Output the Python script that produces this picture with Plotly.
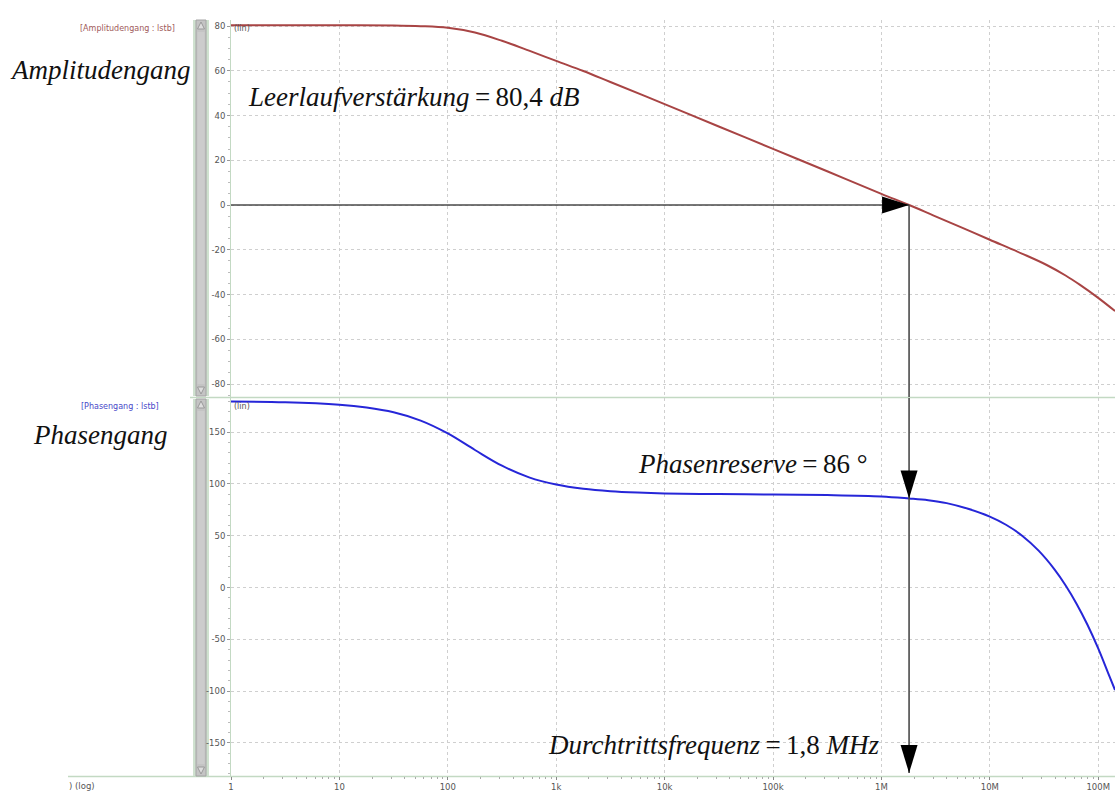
import plotly.graph_objects as go
from plotly.subplots import make_subplots

# --- Frequenzgang des Operationsverstärkers (Simulation lstb) ---
freq_amp = [1, 3.16, 10, 31.6, 56.2, 100, 178, 316, 562, 1e3, 1.78e3, 3.16e3, 1e4, 3.16e4,
            1e5, 3.16e5, 1e6, 1.8e6, 3e6, 5.6e6, 1e7, 2e7, 3.35e7, 5e7, 6.8e7, 1e8, 1.43e8]
amp_db = [80.4, 80.4, 80.4, 80.25, 79.95, 79.2, 77.1, 73.4, 69.0, 64.4, 59.9, 55.0, 45.1, 35.1,
          25.1, 15.1, 5.0, 0.0, -4.6, -10.2, -15.5, -21.8, -26.8, -31.5, -35.7, -41.5, -47.4]

freq_phase = [1, 3.16, 10, 17.8, 31.6, 56.2, 100, 178, 316, 562, 1e3, 1.78e3, 3.16e3, 5.62e3,
              1e4, 3.16e4, 1e5, 3.16e5, 1e6, 1.8e6, 2.7e6, 4e6, 6.3e6, 1e7, 1.41e7, 2e7,
              2.82e7, 3.98e7, 5.01e7, 6.31e7, 7.94e7, 1e8, 1.26e8, 1.43e8]
phase_deg = [179.6, 178.9, 176.5, 173.8, 169.2, 161.2, 148.8, 132.8, 117.6, 106.4, 99.4, 95.3, 93.0, 91.7,
             90.9, 90.2, 89.8, 89.3, 88.0, 86.0, 84.3, 81.5, 76.0, 68.5, 60.6, 49.8,
             35.6, 17.1, 2.0, -15.6, -35.7, -58.8, -84.9, -99.0]

# Kennwerte
A0_DB = 80.4          # Leerlaufverstärkung
F_CROSS = 1.8e6       # Durchtrittsfrequenz
PHASE_MARGIN = 86     # Phasenreserve

# Achsenbeschriftung
x_tickvals = [1, 10, 100, 1e3, 1e4, 1e5, 1e6, 1e7, 1e8]
x_ticktext = ["1", "10", "100", "1k", "10k", "100k", "1M", "10M", "100M"]
amp_ticks = [-80, -60, -40, -20, 0, 20, 40, 60, 80]
phase_ticks = [-150, -100, -50, 0, 50, 100, 150]

# --- Seitengeometrie (Pixel) ---
W, H = 1115, 791
ML, MR, MT, MB = 231, 0, 20, 15
PW, PH = W - ML - MR, H - MT - MB


def X(p):
    return (p - ML) / PW


def Y(p):
    return (H - MB - p) / PH


AMP_RANGE = [-85.8, 82.7]
PH_RANGE = [-182, 183]
X_RANGE = [0, 8.155]

AMP_COLOR = "#a84444"
PH_COLOR = "#2626d8"
GRID = "#cfcfcf"
AXLINE = "#c3d9c3"
TICKFONT = dict(family="DejaVu Sans", size=8.5, color="#555555")
SERIF = "Liberation Serif"
THIN = "\u2009"

fig = make_subplots(rows=2, cols=1, shared_xaxes=True)

fig.add_trace(go.Scatter(x=freq_amp, y=amp_db, mode="lines",
                         line=dict(color=AMP_COLOR, width=2, shape="spline", smoothing=1.0),
                         hoverinfo="skip", showlegend=False), row=1, col=1)
fig.add_trace(go.Scatter(x=freq_phase, y=phase_deg, mode="lines",
                         line=dict(color=PH_COLOR, width=2, shape="spline", smoothing=1.0),
                         hoverinfo="skip", showlegend=False), row=2, col=1)

xcommon = dict(type="log", range=X_RANGE, showgrid=True, gridcolor=GRID, griddash="dot",
               gridwidth=1, tickvals=x_tickvals, zeroline=False)
fig.update_xaxes(**xcommon)
fig.update_layout(
    xaxis=dict(showticklabels=False, ticks="", showline=False),
    xaxis2=dict(ticktext=x_ticktext, ticks="outside", ticklen=3, tickcolor="#888888",
                tickfont=TICKFONT, showline=False,
                minor=dict(dtick="D1", ticks="outside", ticklen=2, tickcolor="#aaaaaa", showgrid=False)),
)

ycommon = dict(showgrid=True, gridcolor=GRID, griddash="dot", gridwidth=1, zeroline=False,
               ticks="outside", ticklen=3, tickcolor="#999999", tickfont=TICKFONT,
               showline=True, linecolor=AXLINE, linewidth=1)
fig.update_layout(
    yaxis=dict(domain=[Y(397), 1], range=AMP_RANGE, tickvals=amp_ticks,
               ticktext=[str(v) for v in amp_ticks],
               minor=dict(dtick=5, ticks="outside", ticklen=2, tickcolor="#bbbbbb", showgrid=False),
               **ycommon),
    yaxis2=dict(domain=[0, Y(398)], range=PH_RANGE, tickvals=phase_ticks,
                ticktext=[str(v) for v in phase_ticks],
                minor=dict(dtick=10, ticks="outside", ticklen=2, tickcolor="#bbbbbb", showgrid=False),
                **ycommon),
)

shapes = []

# Trennlinie zwischen den Diagrammen und Grundlinie
shapes.append(dict(type="line", xref="paper", yref="paper", x0=X(190), x1=1, y0=Y(397.5), y1=Y(397.5),
                   line=dict(color=AXLINE, width=1.5), layer="below"))
shapes.append(dict(type="line", xref="paper", yref="paper", x0=X(68), x1=1, y0=Y(776.5), y1=Y(776.5),
                   line=dict(color=AXLINE, width=1.5), layer="below"))

# Bildlaufleisten links der Achsen
for top, bot in [(20, 396), (399, 776)]:
    shapes.append(dict(type="rect", xref="paper", yref="paper", x0=X(193), x1=X(209),
                       y0=Y(bot), y1=Y(top), fillcolor="#cfe1cf", line=dict(width=0), layer="below"))
    shapes.append(dict(type="rect", xref="paper", yref="paper", x0=X(196), x1=X(206),
                       y0=Y(bot), y1=Y(top), fillcolor="#c4c4c4", line=dict(color="#a4a4a4", width=1),
                       layer="below"))
    shapes.append(dict(type="rect", xref="paper", yref="paper", x0=X(197.5), x1=X(204.5),
                       y0=Y(bot - 12), y1=Y(top + 12), fillcolor="#cccccc", line=dict(width=0),
                       layer="below"))
    # Pfeilsymbole
    shapes.append(dict(type="path", xref="paper", yref="paper",
                       path=f"M{X(197.5)},{Y(top + 9)} L{X(204.5)},{Y(top + 9)} L{X(201)},{Y(top + 2)} Z",
                       fillcolor="#dddddd", line=dict(color="#999999", width=1), layer="below"))
    shapes.append(dict(type="path", xref="paper", yref="paper",
                       path=f"M{X(197.5)},{Y(bot - 9)} L{X(204.5)},{Y(bot - 9)} L{X(201)},{Y(bot - 2)} Z",
                       fillcolor="#dddddd", line=dict(color="#999999", width=1), layer="below"))

ARROW = dict(color="#4a4a4a", width=1.6)
# 0-dB-Linie bis zum Durchtrittspunkt
shapes.append(dict(type="line", xref="x", yref="y", x0=freq_amp[0], x1=F_CROSS, y0=0, y1=0,
                   line=ARROW))
# Senkrechte bei der Durchtrittsfrequenz
shapes.append(dict(type="line", xref="x", yref="y", x0=F_CROSS, x1=F_CROSS, y0=0, y1=AMP_RANGE[0],
                   line=ARROW))
shapes.append(dict(type="line", xref="x2", yref="y2", x0=F_CROSS, x1=F_CROSS,
                   y0=PH_RANGE[1], y1=PH_RANGE[0] + 3, line=ARROW))
# Pfeilspitzen
shapes.append(dict(type="path", xref="x", yref="y", xsizemode="pixel", ysizemode="pixel",
                   xanchor=F_CROSS, yanchor=0, path="M-27,8.5 L0,0 L-27,-8.5 Z",
                   fillcolor="black", line=dict(width=0)))
shapes.append(dict(type="path", xref="x2", yref="y2", xsizemode="pixel", ysizemode="pixel",
                   xanchor=F_CROSS, yanchor=PHASE_MARGIN, path="M-8.5,28 L8.5,28 L0,0 Z",
                   fillcolor="black", line=dict(width=0)))
shapes.append(dict(type="path", xref="x2", yref="y2", xsizemode="pixel", ysizemode="pixel",
                   xanchor=F_CROSS, yanchor=PH_RANGE[0], path="M-8.5,31 L8.5,31 L0,3 Z",
                   fillcolor="black", line=dict(width=0)))

annotations = []


def label(text, x, y, size, color, family, anchor="left"):
    annotations.append(dict(text=text, xref="paper", yref="paper", x=X(x), y=Y(y),
                            xanchor=anchor, yanchor="middle", showarrow=False,
                            font=dict(family=family, size=size, color=color)))


label("(lin)", 232, 28, 8, "#555555", "DejaVu Sans")
label("(lin)", 232, 406, 8, "#555555", "DejaVu Sans")
label(") (log)", 67, 786, 8.5, "#555555", "DejaVu Sans")
label("[Amplitudengang : lstb]", 78, 29, 8, "#a05a5a", "DejaVu Sans")
label("[Phasengang : lstb]", 79, 406, 8, "#4848c8", "DejaVu Sans")

label("<i>Amplitudengang</i>", 8, 70, 27, "#111111", SERIF)
label("<i>Phasengang</i>", 31, 435, 27, "#111111", SERIF)
label(f"<i>Leerlaufverstärkung</i>{THIN}={THIN}{A0_DB:.1f}".replace(".", ",") + " <i>dB</i>",
      246, 97, 27, "#111111", SERIF)
label(f"<i>Phasenreserve</i>{THIN}={THIN}{PHASE_MARGIN} °", 636, 464, 27, "#111111", SERIF)
label(f"<i>Durchtrittsfrequenz</i>{THIN}={THIN}{F_CROSS / 1e6:.1f}".replace(".", ",") + " <i>MHz</i>",
      546, 745, 27, "#111111", SERIF)

fig.update_layout(
    width=W, height=H,
    margin=dict(l=ML, r=MR, t=MT, b=MB),
    paper_bgcolor="white", plot_bgcolor="white",
    shapes=shapes, annotations=annotations,
    showlegend=False,
)

fig.write_html("out.html")
